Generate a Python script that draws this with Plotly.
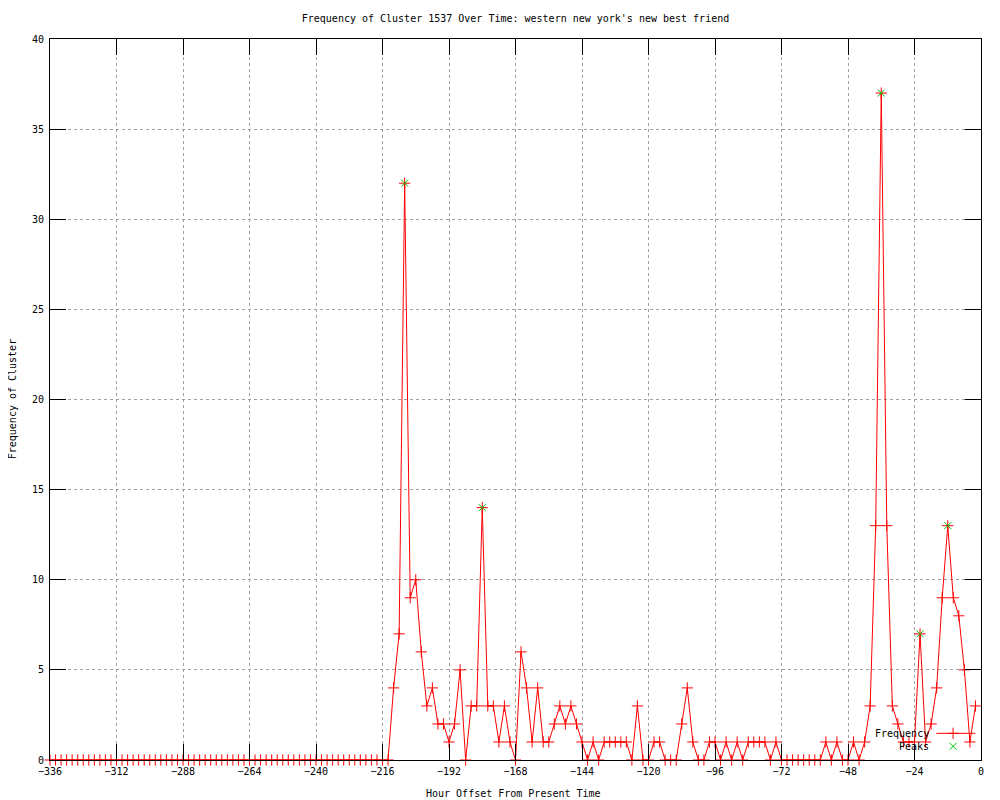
"""
Frequency of a cluster over time, gnuplot-style line chart with peak markers.
"""

import plotly.graph_objects as go

# ─── Data ────────────────────────────────────────────────────────────

HOURS = list(range(-336, 0, 2))  # -336 .. -2, every 2 hours

FREQUENCY = (
    [0] * 62  # -336 .. -214
    + [4, 7, 32, 9, 10, 6, 3, 4, 2, 2, 1, 2, 5, 0, 3, 3, 14, 3, 3, 1]  # -212 .. -174
    + [3, 1, 0, 6, 4, 1, 4, 1, 1, 2, 3, 2, 3, 2, 1, 0, 1, 0, 1, 1]  # -172 .. -134
    + [1, 1, 1, 0, 3, 0, 0, 1, 1, 0, 0, 0, 2, 4, 1, 0, 0, 1, 1, 0]  # -132 .. -94
    + [1, 0, 1, 0, 1, 1, 1, 1, 0, 1, 0, 0, 0, 0, 0, 0, 0, 0, 1, 0]  # -92 .. -54
    + [1, 0, 0, 1, 0, 1, 3, 13, 37, 13, 3, 2, 1, 1, 1, 7, 1, 2, 4, 9]  # -52 .. -14
    + [13, 9, 8, 5, 1, 3]  # -12 .. -2
)

PEAK_HOURS = [-208, -180, -36, -22, -12]
PEAK_VALUES = [32, 14, 37, 7, 13]

X_TICKS = list(range(-336, 1, 24))
Y_TICKS = list(range(0, 41, 5))

TITLE = "Frequency of Cluster 1537 Over Time: western new york's new best friend"
X_LABEL = "Hour Offset From Present Time"
Y_LABEL = "Frequency of Cluster"

# ─── Style ───────────────────────────────────────────────────────────

FONT = dict(family="DejaVu Sans Mono, Liberation Mono, monospace", size=10, color="black")
RED = "#ff0000"
GREEN = "#00c000"
GRID = "#a0a0a0"

# the page body has an 8px margin, so the figure is sized to fit inside it
FIG_W, FIG_H = 992, 792
MARGIN = dict(l=42, r=19, t=31, b=40)

# legend key placement (paper fractions of the plot area)
KEY_TEXT_X = 0.946
KEY_LINE_X = [0.952, 0.994]
KEY_MARK_X = 0.970
KEY_ROW_Y = [0.037, 0.019]

cross = dict(symbol="cross-thin-open", size=8, color=RED, line=dict(color=RED, width=1))
ex = dict(symbol="x-thin-open", size=7, color=GREEN, line=dict(color=GREEN, width=1))

fig = go.Figure()

# Frequency line with red "+" markers
fig.add_trace(
    go.Scatter(
        x=HOURS,
        y=FREQUENCY,
        mode="lines+markers",
        name="Frequency",
        line=dict(color=RED, width=1),
        marker=cross,
        cliponaxis=False,
    )
)

# Peaks as green "x" markers
fig.add_trace(
    go.Scatter(
        x=PEAK_HOURS,
        y=PEAK_VALUES,
        mode="markers",
        name="Peaks",
        marker=ex,
        cliponaxis=False,
    )
)

# ─── gnuplot-like key: text on the left, sample on the right ─────────

fig.add_trace(
    go.Scatter(
        x=KEY_LINE_X,
        y=[KEY_ROW_Y[0]] * 2,
        mode="lines",
        line=dict(color=RED, width=1),
        xaxis="x2",
        yaxis="y2",
        hoverinfo="skip",
    )
)
fig.add_trace(
    go.Scatter(
        x=[KEY_MARK_X],
        y=[KEY_ROW_Y[0]],
        mode="markers",
        marker=cross,
        xaxis="x2",
        yaxis="y2",
        hoverinfo="skip",
    )
)
fig.add_trace(
    go.Scatter(
        x=[KEY_MARK_X],
        y=[KEY_ROW_Y[1]],
        mode="markers",
        marker=ex,
        xaxis="x2",
        yaxis="y2",
        hoverinfo="skip",
    )
)

for label, ky in zip(["Frequency", "Peaks"], KEY_ROW_Y):
    fig.add_annotation(
        x=KEY_TEXT_X, y=ky, xref="paper", yref="paper",
        text=label, showarrow=False, xanchor="right", yanchor="middle", font=FONT,
    )

# ─── Titles as annotations, placed like gnuplot does ─────────────────

fig.add_annotation(
    x=0.498, y=-0.046, xref="paper", yref="paper",
    text=X_LABEL, showarrow=False, xanchor="center", yanchor="middle", font=FONT,
)
fig.add_annotation(
    x=-0.040, y=0.5, xref="paper", yref="paper", textangle=-90,
    text=Y_LABEL, showarrow=False, xanchor="center", yanchor="middle", font=FONT,
)

# ─── Layout ──────────────────────────────────────────────────────────

axis_common = dict(
    showline=True,
    linecolor="black",
    linewidth=1,
    mirror="ticks",
    ticks="inside",
    ticklen=16,
    tickcolor="black",
    tickwidth=1,
    showgrid=True,
    gridcolor=GRID,
    gridwidth=1,
    griddash="dot",
    zeroline=False,
    tickfont=FONT,
    automargin=False,
)

fig.update_layout(
    width=FIG_W,
    height=FIG_H,
    paper_bgcolor="white",
    plot_bgcolor="white",
    font=FONT,
    margin=MARGIN,
    title=dict(
        text=TITLE,
        x=0.5,
        xref="paper",
        xanchor="center",
        y=1 - 10 / FIG_H,
        yanchor="middle",
        font=FONT,
    ),
    xaxis=dict(range=[-336, 0], tickvals=X_TICKS, ticklabelstandoff=2, **axis_common),
    yaxis=dict(range=[0, 40], tickvals=Y_TICKS, ticklabelstandoff=3, **axis_common),
    xaxis2=dict(range=[0, 1], overlaying="x", visible=False, fixedrange=True),
    yaxis2=dict(range=[0, 1], overlaying="y", visible=False, fixedrange=True),
    showlegend=False,
)

fig.write_html("out.html")
